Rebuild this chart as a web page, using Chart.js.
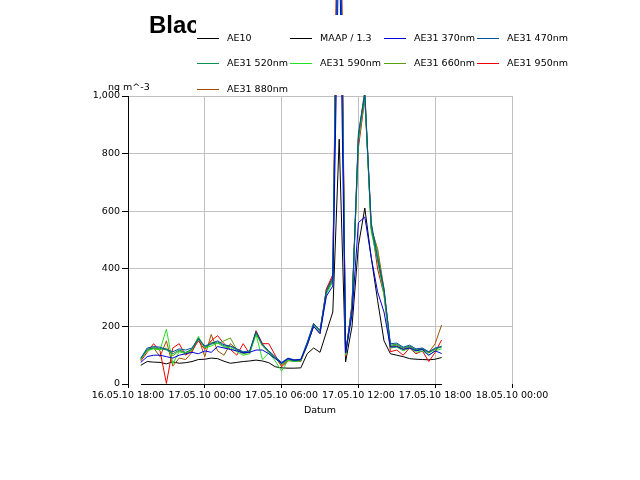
<!DOCTYPE html>
<html>
<head>
<meta charset="utf-8">
<title>Black Carbon</title>
<script src="https://cdn.jsdelivr.net/npm/chart.js@4.4.1/dist/chart.umd.min.js"></script>
<style>
    body { margin: 0; background: #fff; }
    canvas { display: block; }
</style>
</head>
<body>
<canvas id="bcChart" width="640" height="480"></canvas>
<script>
// half-hourly values, 16.05.10 19:00 ... 17.05.10 18:30
const startHour = 1;      // hours after 16.05.10 18:00
const stepHours = 0.5;
const tickStep = 6;
const tickLabels = ["16.05.10 18:00", "17.05.10 00:00", "17.05.10 06:00", "17.05.10 12:00", "17.05.10 18:00", "18.05.10 00:00"];

const seriesNames = ["AE10", "MAAP / 1.3", "AE31 370nm", "AE31 470nm", "AE31 520nm", "AE31 590nm", "AE31 660nm", "AE31 950nm", "AE31 880nm"];
const seriesColors = ["#000000", "#000000", "#0000dd", "#0050a0", "#109050", "#22e022", "#58a010", "#ee0000", "#a05000"];

const ae10 = [];
const maap = [65,78,76,75,70,77,72,74,78,85,86,90,88,79,72,75,78,80,83,80,74,60,56,55,55,56,105,125,110,180,250,850,77,200,480,611,440,290,150,105,100,95,88,86,85,84,86,92];
const ae31_370 = [75,95,100,100,95,90,100,105,110,105,115,110,130,125,120,115,108,110,118,118,105,88,72,88,82,85,135,200,175,305,340,1600,108,240,560,580,440,320,250,128,130,120,125,115,120,100,115,106];
const ae31_470 = [90,125,130,128,120,112,122,118,125,158,132,140,150,136,132,122,112,115,182,138,115,95,75,90,84,86,145,210,186,325,370,2000,112,265,870,1010,560,440,330,140,142,128,135,122,125,112,125,130];
const ae31_520 = [88,120,126,124,118,105,118,110,120,155,128,138,146,132,130,118,108,112,178,135,112,92,70,86,80,82,140,205,182,318,360,1950,110,260,850,1005,540,430,320,135,138,125,132,118,122,110,122,128];
const ae31_590 = [85,115,122,118,190,70,112,105,118,165,125,132,142,128,125,112,100,105,172,85,108,80,45,82,78,80,135,200,178,312,355,1900,100,255,840,1000,530,425,310,125,128,115,125,110,115,100,115,122];
const ae31_660 = [86,118,125,120,125,98,115,108,122,162,126,145,140,150,160,118,105,110,175,132,110,90,66,84,79,81,138,208,184,322,365,2050,105,262,855,1008,545,460,325,132,135,122,130,116,120,108,120,132];
const ae31_950 = [80,110,140,115,2,125,140,100,115,150,120,150,168,140,120,100,140,105,185,140,140,100,60,80,85,78,135,200,175,330,380,2200,95,280,820,990,560,400,310,112,118,100,125,105,115,78,110,153];
const ae31_880 = [85,120,125,95,150,62,90,85,110,160,95,172,115,100,140,120,110,110,180,140,110,92,65,82,78,80,140,210,185,330,370,2100,105,270,860,1020,540,470,330,130,132,120,128,118,122,110,140,205];

const seriesValues = [ae10, maap, ae31_370, ae31_470, ae31_520, ae31_590, ae31_660, ae31_950, ae31_880];
// drawing order, lower = on top
const drawOrder = [8, 7, 0, 1, 2, 3, 4, 5, 6];

function toPoints(values) {
    return values.map((v, i) => ({ x: startHour + i * stepHours, y: v }));
}

// title, legend box, unit label and the short x axis line
const overlay = {
    id: "overlay",
    afterDraw(chart) {
        let ctx = chart.ctx;
        let xs = chart.scales.x;
        let ys = chart.scales.y;
        ctx.save();

        // x axis line only under the data range
        let lastHour = startHour + (maap.length - 1) * stepHours;
        let y0 = Math.round(ys.getPixelForValue(0)) + 0.5;
        ctx.strokeStyle = "#000";
        ctx.lineWidth = 1;
        ctx.beginPath();
        ctx.moveTo(Math.round(xs.getPixelForValue(startHour)), y0);
        ctx.lineTo(Math.round(xs.getPixelForValue(lastHour)), y0);
        ctx.stroke();

        ctx.fillStyle = "#000";
        ctx.font = "bold 24px 'Liberation Sans', Arial, sans-serif";
        ctx.textBaseline = "alphabetic";
        ctx.textAlign = "left";
        ctx.fillText("Black Carbon", 149, 33);

        // legend sits on top of the title and the spikes
        ctx.fillStyle = "#fff";
        ctx.fillRect(196, 15, 420, 80);

        ctx.font = "9.5px 'DejaVu Sans', sans-serif";
        ctx.textBaseline = "middle";
        chart.data.datasets.forEach((ds, i) => {
            let col = i % 4;
            let row = Math.floor(i / 4);
            let lx = Math.round(197 + col * 93.3);
            let ly = Math.round(37.5 + row * 25.7) + 0.5;
            ctx.strokeStyle = ds.borderColor;
            ctx.beginPath();
            ctx.moveTo(lx, ly);
            ctx.lineTo(lx + 22, ly);
            ctx.stroke();
            ctx.fillStyle = "#000";
            ctx.fillText(ds.label, lx + 30, ly);
        });

        ctx.fillText("ng m^-3", 108, 88);
        ctx.restore();
    }
};

document.addEventListener("DOMContentLoaded", function () {
    Chart.defaults.font.family = "'DejaVu Sans', sans-serif";
    Chart.defaults.font.size = 9.5;
    Chart.defaults.color = "#000";

    let datasets = seriesNames.map((name, i) => ({
        label: name,
        data: toPoints(seriesValues[i]),
        borderColor: seriesColors[i],
        backgroundColor: seriesColors[i],
        borderWidth: 1,
        pointRadius: 0,
        tension: 0,
        fill: false,
        clip: false,
        order: drawOrder[i]
    }));

    let ctx = document.getElementById("bcChart").getContext("2d");
    new Chart(ctx, {
        type: "line",
        data: { datasets: datasets },
        plugins: [overlay],
        options: {
            responsive: false,
            animation: false,
            events: [],
            locale: "en-US",
            layout: { padding: { top: 96, right: 128, bottom: 0, left: 0 } },
            plugins: {
                legend: { display: false },
                title: { display: false },
                tooltip: { enabled: false }
            },
            scales: {
                x: {
                    type: "linear",
                    min: 0,
                    max: 30,
                    afterFit: s => { s.height = 96; },
                    border: { display: false },
                    grid: { color: "#c0c0c0", tickColor: "#000", tickLength: 4 },
                    ticks: {
                        stepSize: tickStep,
                        autoSkip: false,
                        maxRotation: 0,
                        padding: 2,
                        callback: v => tickLabels[Math.round(v / tickStep)]
                    },
                    // title is placed from the bottom of the axis box
                    title: { display: true, text: "Datum", padding: { top: 2, bottom: 64 } }
                },
                y: {
                    min: 0,
                    max: 1000,
                    afterFit: s => { s.width = 128; },
                    border: { color: "#000" },
                    grid: {
                        color: c => (c.tick && c.tick.value === 0) ? "rgba(0,0,0,0)" : "#c0c0c0",
                        tickColor: "#000",
                        tickLength: 6
                    },
                    ticks: { stepSize: 200, padding: 2 }
                }
            }
        }
    });
});
</script>
</body>
</html>
